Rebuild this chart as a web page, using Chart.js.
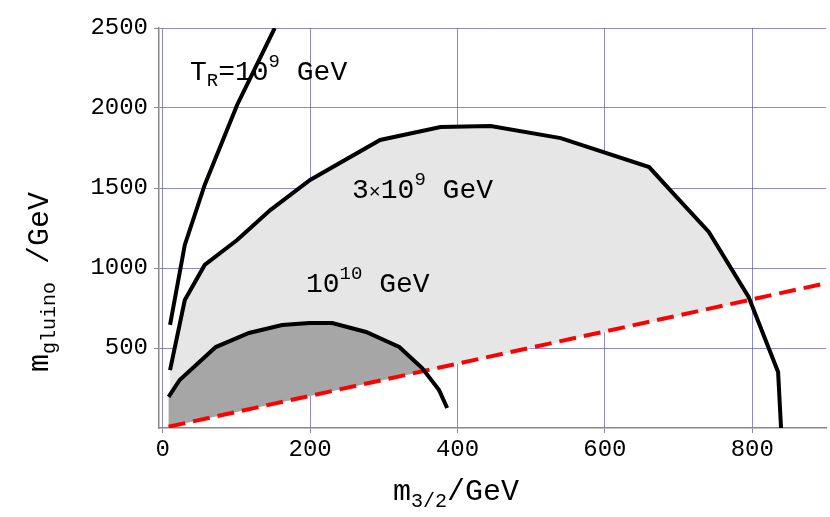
<!DOCTYPE html>
<html><head><meta charset="utf-8">
<script src="https://cdn.jsdelivr.net/npm/chart.js@4"></script>
<style>html,body{margin:0;padding:0;background:#fff}#w{width:830px;height:517px}</style>
</head><body><div id="w"><canvas id="c"></canvas></div>
<script>
const xTicks = [0, 200, 400, 600, 800];
const yTicks = [500, 1000, 1500, 2000, 2500];
const curveTR1e9 = [[10,644],[30,1144],[57,1519],[101,2019],[152,2500]];
const curveTR3e9 = [[10,362],[30,800],[57,1019],[101,1175],[146,1362],[200,1550],[295,1800],[377,1881],[445,1888],[540,1812],[660,1631],[697,1444],[741,1225],[795,819],[835,350],[839,0]];
const curveTR1e10 = [[8,194],[23,300],[72,506],[117,594],[162,644],[199,656],[230,656],[276,600],[321,506],[352,375],[375,237],[386,125]];
const redLine = [[8,8],[900,905]];
const light3e9 = [[10,362],[30,800],[57,1019],[101,1175],[146,1362],[200,1550],[295,1800],[377,1881],[445,1888],[540,1812],[660,1631],[697,1444],[741,1225],[797,797],[10,10]];
const dark1e10 = [[8,194],[23,300],[72,506],[117,594],[162,644],[199,656],[230,656],[276,600],[321,506],[352,375],[362,362],[8,8]];
const pts = a => a.map(p => ({x:p[0], y:p[1]}));
const mono = '"Liberation Mono", "DejaVu Sans Mono", monospace';

const fills = {
  id:'fills',
  beforeDatasetsDraw(ch){
    const c = ch.ctx, xs = ch.scales.x, ys = ch.scales.y;
    function poly(a, col){
      c.beginPath();
      a.forEach((p,i)=>{const X=xs.getPixelForValue(p[0]), Y=ys.getPixelForValue(p[1]); i?c.lineTo(X,Y):c.moveTo(X,Y);});
      c.closePath(); c.fillStyle=col; c.fill();
    }
    c.save();
    poly(light3e9, '#e6e6e6');
    poly(dark1e10, '#a6a6a6');
    c.restore();
  }
};

const labels = {
  id:'labels',
  afterDraw(ch){
    const c = ch.ctx;
    c.save(); c.fillStyle = '#000'; c.textBaseline = 'alphabetic';
    function sup(parts, x, y){
      let cx = x;
      for (const [t, sz, dy] of parts){ c.font = sz + 'px ' + mono; c.fillText(t, cx, y + dy); cx += c.measureText(t).width; }
    }
    sup([['T',28,0],['R',19,6],['=10',28,0],['9',19,-13],[' GeV',28,0]], 190, 80);
    sup([['3',28,0],['\u00d7',20,0],['10',28,0],['9',19,-13],[' GeV',28,0]], 352, 198);
    sup([['10',28,0],['10',19,-13],[' GeV',28,0]], 306, 292);
    sup([['m',30,0],['3/2',20,7],['/GeV',30,0]], 393, 500);
    c.translate(48, 372); c.rotate(-Math.PI/2);
    sup([['m',30,0],['gluino',20,7],[' /GeV',30,0]], 0, 0);
    c.restore();
  }
};

new Chart(document.getElementById('c'), {
  type:'scatter',
  data:{datasets:[
    {data:pts(curveTR1e9), showLine:true, borderColor:'#000', borderWidth:4, pointRadius:0, fill:false},
    {data:pts(curveTR3e9), showLine:true, borderColor:'#000', borderWidth:4, pointRadius:0, fill:false},
    {data:pts(curveTR1e10), showLine:true, borderColor:'#000', borderWidth:4, pointRadius:0, fill:false},
    {data:pts(redLine), showLine:true, borderColor:'#f00', borderWidth:4, borderDash:[17,8], pointRadius:0, fill:false}
  ]},
  options:{
    responsive:true, maintainAspectRatio:false, animation:false,
    layout:{padding:{top:28,right:4,left:0,bottom:0}},
    plugins:{legend:{display:false}, tooltip:{enabled:false}},
    scales:{
      x:{type:'linear', min:-5, max:900,
        afterBuildTicks:s=>{s.ticks = xTicks.map(v=>({value:v}));},
        afterFit:s=>{s.height = 89;},
        grid:{color:'rgba(90,90,180,0.7)', lineWidth:1, tickLength:5, tickColor:'#888'},
        border:{color:'#888', width:1.5},
        ticks:{font:{family:mono, size:24}, color:'#000', maxRotation:0, padding:2, callback:v=>String(v)}},
      y:{type:'linear', min:0, max:2500,
        afterBuildTicks:s=>{s.ticks = yTicks.map(v=>({value:v}));},
        afterFit:s=>{s.width = 159;},
        grid:{color:'rgba(90,90,180,0.7)', lineWidth:1, tickLength:5, tickColor:'#888'},
        border:{color:'#888', width:1.5},
        ticks:{font:{family:mono, size:24}, color:'#000', padding:6, callback:v=>String(v)}}
    }
  },
  plugins:[fills, labels]
});
</script></body></html>
